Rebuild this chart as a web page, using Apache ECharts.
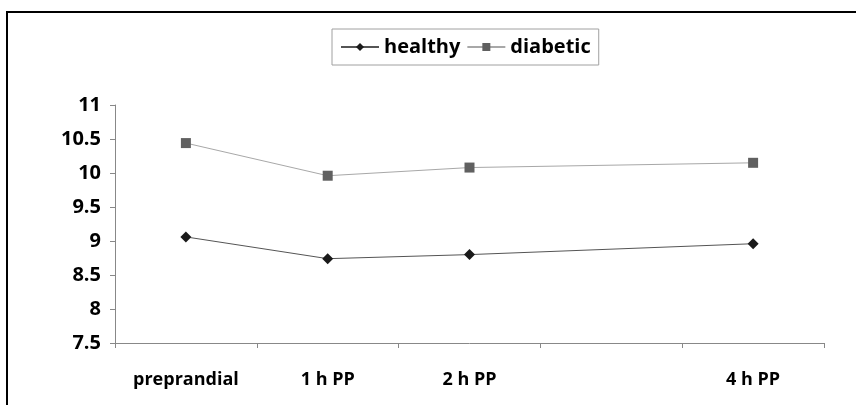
<!DOCTYPE html>
<html>
<head>
<meta charset="utf-8">
<script src="https://cdn.jsdelivr.net/npm/echarts@6/dist/echarts.min.js"></script>
<style>html,body{margin:0;padding:0;background:#fff}#c{width:856px;height:405px}</style>
</head>
<body>
<div id="c"></div>
<script>
var categories = ['preprandial', '1 h PP', '2 h PP', '', '4 h PP'];
var healthy = [9.06, 8.74, 8.80, null, 8.96];
var diabetic = [10.44, 9.96, 10.08, null, 10.15];
var yTicks = [7.5, 8, 8.5, 9, 9.5, 10, 10.5, 11];

var FONT = '"Open Sans", "Liberation Sans", sans-serif';
var chart = echarts.init(document.getElementById('c'), null, {renderer: 'canvas'});
chart.setOption({
  animation: false,
  backgroundColor: '#fff',
  graphic: [{
    type: 'rect', shape: {x: 7, y: 12, width: 900, height: 500},
    style: {fill: null, stroke: '#000', lineWidth: 2}, silent: true
  }],
  legend: {
    top: 29, left: 332,
    padding: [8, 8, 8, 8],
    borderColor: '#a0a0a0', borderWidth: 1,
    itemWidth: 38, itemHeight: 10, itemGap: 6,
    textStyle: {fontFamily: FONT, fontWeight: 'bold', fontSize: 20, color: '#000'},
    data: ['healthy', 'diabetic']
  },
  grid: {left: 115, right: 32, top: 105, bottom: 62},
  xAxis: {
    type: 'category', data: categories, boundaryGap: true,
    axisLine: {lineStyle: {color: '#888', width: 1}},
    axisTick: {show: true, length: 5, lineStyle: {color: '#888'}},
    axisLabel: {margin: 28, fontFamily: FONT, fontWeight: 'bold', fontSize: 18, color: '#000', interval: 0}
  },
  yAxis: {
    type: 'value', min: yTicks[0], max: yTicks[yTicks.length - 1], interval: 0.5,
    splitLine: {show: false},
    axisLine: {show: true, lineStyle: {color: '#888', width: 1}},
    axisTick: {show: true, length: 5, lineStyle: {color: '#888'}},
    axisLabel: {margin: 14, fontFamily: FONT, fontWeight: 'bold', fontSize: 20, color: '#000'}
  },
  series: [{
    name: 'healthy', type: 'line', data: healthy, connectNulls: true,
    symbol: 'diamond', symbolSize: 11,
    itemStyle: {color: '#1a1a1a'},
    lineStyle: {color: '#555', width: 1}
  }, {
    name: 'diabetic', type: 'line', data: diabetic, connectNulls: true,
    symbol: 'rect', symbolSize: 10,
    itemStyle: {color: '#606060'},
    lineStyle: {color: '#a8a8a8', width: 1}
  }]
});
</script>
</body>
</html>
